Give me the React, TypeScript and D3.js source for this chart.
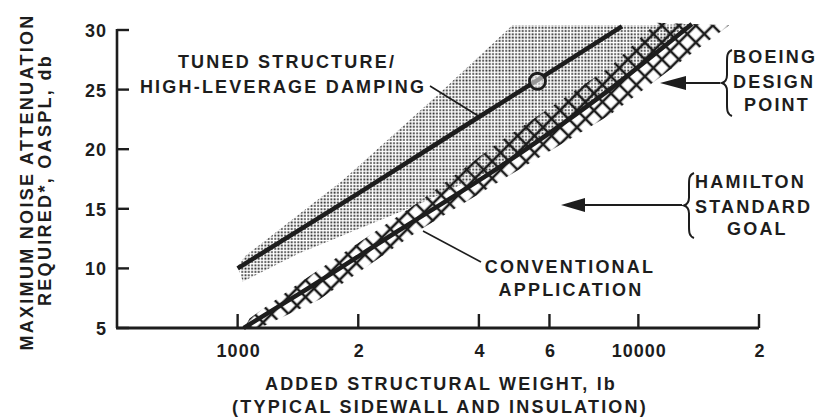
import * as d3 from "d3";

// weights (lb) and attenuation (dB)
const tunedWeight = [1000, 2000, 4000, 5600, 9100];
const tunedDb = [10, 16.3, 22.7, 25.8, 30.3];

const convWeight = [1035, 1430, 2530, 4500, 8470, 13600];
const convDb = [5, 7.9, 13.2, 18.5, 25, 30.5];

// stippled band around the tuned curve (outline, clockwise)
const stippleWeight = [1000, 1050, 1830, 3190, 4850, 10600, 13600, 8470, 4500, 2840, 1430, 1030];
const stippleDb = [10.2, 11.1, 17.4, 24.7, 30.4, 30.4, 30.5, 25, 18.5, 15.4, 11.3, 8.9];

// cross-hatched band along the conventional curve
const hatchWeight = [1040, 1071, 1428, 2840, 4500, 8500, 11100, 16850, 8500, 4500, 2840, 1600, 1135];
const hatchDb = [5, 5.8, 8.8, 15.6, 20.6, 26.9, 30.6, 30.4, 22.9, 17.3, 13.2, 7.4, 5.0];

const designWeight = 5600;
const designDb = 25.7;

const xTicks = [1000, 2000, 4000, 6000, 10000, 20000];
const xTickLabels = ["1000", "2", "4", "6", "10000", "2"];
const yTicks = [5, 10, 15, 20, 25, 30];

const W = 817;
const H = 419;
const INK = "#1d1d1d";
const FONT = "'Liberation Sans', Arial, sans-serif";

export default function App() {
  const x = d3.scaleLog().domain([500, 20000]).range([117, 759]);
  const y = d3.scaleLinear().domain([5, 30]).range([328, 30]);

  const line = d3
    .line<[number, number]>()
    .x((d) => x(d[0]))
    .y((d) => y(d[1]))
    .curve(d3.curveMonotoneX);
  const poly = d3
    .line<[number, number]>()
    .x((d) => x(d[0]))
    .y((d) => y(d[1]))
    .curve(d3.curveLinearClosed);

  const zip = (a: number[], b: number[]) =>
    a.map((v, i) => [v, b[i]] as [number, number]);

  const tunedPath = line(zip(tunedWeight, tunedDb)) ?? "";
  const convPath = line(zip(convWeight, convDb)) ?? "";
  const stipplePath = poly(zip(stippleWeight, stippleDb)) ?? "";
  const hatchPath = poly(zip(hatchWeight, hatchDb)) ?? "";

  const x0 = x.range()[0];
  const x1 = x.range()[1];
  const yb = y(5);
  const yt = y(30);

  const txt = {
    fontFamily: FONT,
    fontWeight: 700,
    fontSize: 18,
    fill: INK,
    letterSpacing: 2.2,
  } as const;

  const brace = (bx: number, top: number, bot: number) => {
    const mid = (top + bot) / 2;
    return `M${bx + 5},${top} C${bx},${top + 2} ${bx},${top + 6} ${bx},${top + 12} L${bx},${mid - 8} C${bx},${mid - 3} ${bx - 2},${mid - 1} ${bx - 5},${mid} C${bx - 2},${mid + 1} ${bx},${mid + 3} ${bx},${mid + 8} L${bx},${bot - 12} C${bx},${bot - 6} ${bx},${bot - 2} ${bx + 5},${bot}`;
  };

  return (
    <svg
      width={W}
      height={H}
      viewBox={`0 0 ${W} ${H}`}
      style={{ position: "absolute", left: 0, top: 0, background: "#fff" }}
    >
      <defs>
        <pattern id="stipple" width={3.3} height={3.3} patternUnits="userSpaceOnUse">
          <rect x={0.4} y={0.4} width={1.8} height={1.8} fill="#2a2a2a" />
        </pattern>
        <pattern
          id="hatch"
          width={12}
          height={12}
          patternUnits="userSpaceOnUse"
          patternTransform="rotate(45)"
        >
          <path d="M6,0 V12 M0,6 H12" stroke={INK} strokeWidth={2.6} fill="none" />
        </pattern>
      </defs>

      {/* bands */}
      <path d={stipplePath} fill="url(#stipple)" />
      <path d={hatchPath} fill="url(#hatch)" />

      {/* curves */}
      <path d={convPath} fill="none" stroke={INK} strokeWidth={4.5} />
      <path d={tunedPath} fill="none" stroke={INK} strokeWidth={4.5} />
      <circle
        cx={x(designWeight)}
        cy={y(designDb)}
        r={8}
        fill="#e8e8e8"
        fillOpacity={0.6}
        stroke={INK}
        strokeWidth={2.8}
      />

      {/* axes */}
      <line x1={x0} y1={yt - 1} x2={x0} y2={yb} stroke={INK} strokeWidth={2.6} />
      <line x1={x0 - 1} y1={yb} x2={x1} y2={yb} stroke={INK} strokeWidth={2.8} />
      {yTicks.map((t) => (
        <g key={t}>
          <line x1={x0} x2={x0 + 12} y1={y(t)} y2={y(t)} stroke={INK} strokeWidth={2.4} />
          <text {...txt} letterSpacing={1} x={107} y={y(t) + 7} textAnchor="end">
            {t}
          </text>
        </g>
      ))}
      {xTicks.map((t, i) => (
        <g key={t}>
          <line x1={x(t)} x2={x(t)} y1={yb} y2={yb - 14} stroke={INK} strokeWidth={2.4} />
          <text {...txt} letterSpacing={1} x={x(t) + 1} y={357} textAnchor="middle">
            {xTickLabels[i]}
          </text>
        </g>
      ))}

      {/* axis titles */}
      <text {...txt} letterSpacing={2.3} textAnchor="middle" transform="translate(33,182) rotate(-90)">
        MAXIMUM NOISE ATTENUATION
      </text>
      <text {...txt} letterSpacing={2.3} textAnchor="middle" transform="translate(51,180) rotate(-90)">
        REQUIRED*, OASPL, db
      </text>
      <text {...txt} textAnchor="middle" x={441} y={390}>
        ADDED STRUCTURAL WEIGHT, lb
      </text>
      <text {...txt} textAnchor="middle" x={440} y={413}>
        (TYPICAL SIDEWALL AND INSULATION)
      </text>

      {/* curve labels */}
      <text {...txt} textAnchor="middle" x={287} y={68}>
        TUNED STRUCTURE/
      </text>
      <text {...txt} textAnchor="middle" x={283} y={93}>
        HIGH-LEVERAGE DAMPING
      </text>
      <line x1={430} y1={86} x2={480} y2={117} stroke={INK} strokeWidth={1.6} />

      <text {...txt} textAnchor="middle" x={570} y={273}>
        CONVENTIONAL
      </text>
      <text {...txt} textAnchor="middle" x={571} y={296}>
        APPLICATION
      </text>
      <line x1={423} y1={231} x2={481} y2={262} stroke={INK} strokeWidth={1.6} />

      {/* Boeing design point */}
      <path d={brace(727, 50, 116)} fill="none" stroke={INK} strokeWidth={2} />
      <line x1={720} y1={83} x2={680} y2={83} stroke={INK} strokeWidth={2} />
      <path d="M660,83 L686,76 L686,90 Z" fill={INK} />
      <text {...txt} x={733} y={63}>BOEING</text>
      <text {...txt} x={733} y={88}>DESIGN</text>
      <text {...txt} x={744} y={111}>POINT</text>

      {/* Hamilton Standard goal */}
      <path d={brace(689, 173, 238)} fill="none" stroke={INK} strokeWidth={2} />
      <line x1={682} y1={205} x2={580} y2={205} stroke={INK} strokeWidth={2} />
      <path d="M561,205 L585,198 L585,212 Z" fill={INK} />
      <text {...txt} x={695} y={188}>HAMILTON</text>
      <text {...txt} x={695} y={213}>STANDARD</text>
      <text {...txt} x={727} y={235}>GOAL</text>
    </svg>
  );
}
